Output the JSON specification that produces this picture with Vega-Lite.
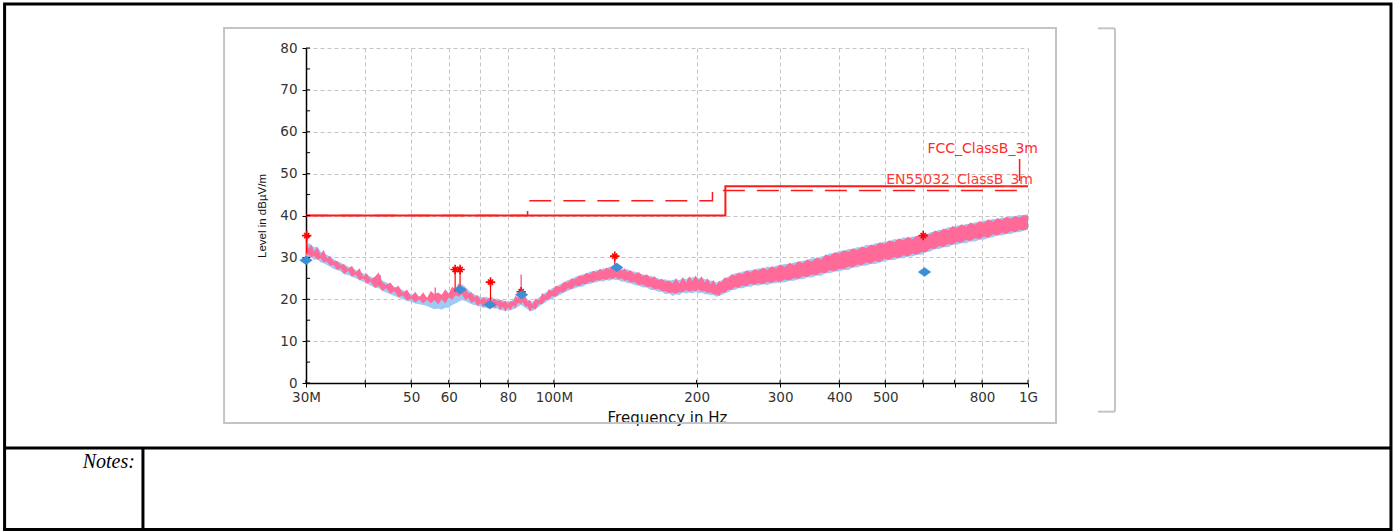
{
"$schema": "https://vega.github.io/schema/vega-lite/v6.json",
"width": 722, "height": 335,
"autosize": {"type": "none"},
"padding": {"left": 306, "top": 48, "right": 368, "bottom": 148},
"background": "white",
"config": {
  "view": {"stroke": null},
  "axis": {"gridDash": [4, 3], "gridColor": "#c4c4c4", "gridWidth": 1, "domainColor": "#000000", "domainWidth": 1.5, "tickColor": "#000000", "tickSize": 4, "tickWidth": 1, "labelFont": "DejaVu Sans", "labelFontSize": 13.5, "labelColor": "#333333", "labelPadding": 3, "titleFont": "DejaVu Sans", "titleFontWeight": "normal", "titleColor": "#111111", "labelOverlap": false, "labelFlush": false, "labelBound": false}
},
"datasets": {
  "trace": [
{"f":30.0,"pl":30.4,"ph":34.2,"bl":30.0,"bh":33.0},
{"f":30.4,"pl":30.6,"ph":32.2,"bl":29.6,"bh":33.4},
{"f":30.8,"pl":30.0,"ph":33.0,"bl":30.0,"bh":33.0},
{"f":31.2,"pl":30.4,"ph":31.4,"bl":29.4,"bh":32.4},
{"f":31.7,"pl":29.4,"ph":32.4,"bl":29.6,"bh":32.6},
{"f":32.2,"pl":29.8,"ph":30.6,"bl":28.8,"bh":31.4},
{"f":32.7,"pl":28.8,"ph":31.8,"bl":28.6,"bh":31.0},
{"f":33.2,"pl":29.0,"ph":29.8,"bl":28.2,"bh":30.6},
{"f":33.7,"pl":28.0,"ph":30.4,"bl":27.8,"bh":30.2},
{"f":34.3,"pl":28.2,"ph":29.0,"bl":27.2,"bh":29.6},
{"f":34.9,"pl":27.0,"ph":29.2,"bl":27.0,"bh":29.0},
{"f":35.5,"pl":27.4,"ph":28.2,"bl":26.6,"bh":28.8},
{"f":36.1,"pl":26.0,"ph":28.4,"bl":26.0,"bh":28.2},
{"f":36.8,"pl":26.8,"ph":27.2,"bl":25.8,"bh":27.8},
{"f":37.5,"pl":25.4,"ph":28.0,"bl":25.4,"bh":27.6},
{"f":38.2,"pl":25.9,"ph":26.4,"bl":25.0,"bh":27.0},
{"f":38.9,"pl":24.5,"ph":27.4,"bl":24.6,"bh":26.6},
{"f":39.6,"pl":25.0,"ph":25.4,"bl":24.2,"bh":26.2},
{"f":40.3,"pl":23.7,"ph":26.2,"bl":23.8,"bh":25.8},
{"f":41.1,"pl":24.2,"ph":24.7,"bl":23.2,"bh":25.4},
{"f":41.9,"pl":22.7,"ph":25.4,"bl":22.8,"bh":25.0},
{"f":42.7,"pl":23.2,"ph":26.4,"bl":22.6,"bh":24.8},
{"f":43.5,"pl":22.0,"ph":24.0,"bl":22.0,"bh":24.4},
{"f":44.3,"pl":22.7,"ph":23.4,"bl":21.6,"bh":24.0},
{"f":45.2,"pl":21.3,"ph":24.0,"bl":21.2,"bh":23.6},
{"f":46.1,"pl":21.9,"ph":22.6,"bl":20.8,"bh":23.0},
{"f":47.0,"pl":20.5,"ph":23.2,"bl":20.4,"bh":22.6},
{"f":48.0,"pl":20.9,"ph":21.5,"bl":20.0,"bh":22.2},
{"f":49.0,"pl":19.7,"ph":22.3,"bl":19.6,"bh":21.6},
{"f":50.0,"pl":20.1,"ph":20.6,"bl":19.4,"bh":21.2},
{"f":51.0,"pl":19.2,"ph":21.8,"bl":19.0,"bh":21.0},
{"f":52.0,"pl":20.0,"ph":20.4,"bl":18.8,"bh":20.8},
{"f":53.0,"pl":19.0,"ph":21.7,"bl":18.6,"bh":20.6},
{"f":54.0,"pl":19.9,"ph":20.3,"bl":18.4,"bh":20.4},
{"f":55.0,"pl":19.0,"ph":22.0,"bl":18.0,"bh":20.8},
{"f":56.0,"pl":19.8,"ph":21.2,"bl":17.6,"bh":21.0},
{"f":57.0,"pl":18.8,"ph":21.6,"bl":17.8,"bh":20.6},
{"f":58.0,"pl":20.0,"ph":21.0,"bl":17.5,"bh":21.2},
{"f":59.0,"pl":19.0,"ph":22.4,"bl":18.0,"bh":21.0},
{"f":60.0,"pl":20.4,"ph":21.4,"bl":18.0,"bh":21.4},
{"f":61.0,"pl":19.9,"ph":23.0,"bl":18.6,"bh":22.0},
{"f":62.0,"pl":21.0,"ph":22.4,"bl":19.0,"bh":22.6},
{"f":63.0,"pl":20.6,"ph":23.8,"bl":19.4,"bh":23.2},
{"f":64.0,"pl":21.2,"ph":22.6,"bl":19.8,"bh":23.6},
{"f":65.0,"pl":19.8,"ph":22.8,"bl":19.6,"bh":23.0},
{"f":66.0,"pl":20.3,"ph":21.4,"bl":19.2,"bh":22.2},
{"f":67.0,"pl":19.1,"ph":21.7,"bl":18.8,"bh":21.6},
{"f":68.0,"pl":19.6,"ph":20.5,"bl":18.6,"bh":21.2},
{"f":69.0,"pl":18.4,"ph":21.0,"bl":18.4,"bh":20.8},
{"f":70.0,"pl":19.0,"ph":19.8,"bl":18.2,"bh":20.6},
{"f":71.0,"pl":18.1,"ph":20.5,"bl":18.0,"bh":20.4},
{"f":72.0,"pl":18.9,"ph":19.9,"bl":18.0,"bh":20.6},
{"f":73.0,"pl":17.9,"ph":20.4,"bl":17.8,"bh":20.2},
{"f":74.0,"pl":18.9,"ph":19.8,"bl":18.0,"bh":20.6},
{"f":75.0,"pl":17.8,"ph":20.2,"bl":17.8,"bh":20.0},
{"f":76.0,"pl":18.7,"ph":19.5,"bl":17.8,"bh":20.2},
{"f":77.0,"pl":17.4,"ph":19.9,"bl":17.4,"bh":19.8},
{"f":78.0,"pl":18.2,"ph":19.2,"bl":17.4,"bh":19.8},
{"f":79.0,"pl":17.1,"ph":19.7,"bl":17.2,"bh":19.4},
{"f":80.0,"pl":18.1,"ph":18.9,"bl":17.4,"bh":19.6},
{"f":81.0,"pl":17.3,"ph":19.6,"bl":17.4,"bh":19.4},
{"f":82.0,"pl":18.5,"ph":19.4,"bl":17.6,"bh":20.0},
{"f":83.0,"pl":18.0,"ph":20.9,"bl":17.8,"bh":20.4},
{"f":84.0,"pl":19.2,"ph":20.2,"bl":18.2,"bh":20.8},
{"f":85.0,"pl":18.8,"ph":21.9,"bl":18.6,"bh":21.4},
{"f":86.0,"pl":19.3,"ph":20.4,"bl":18.4,"bh":21.0},
{"f":87.0,"pl":18.2,"ph":20.9,"bl":18.0,"bh":20.6},
{"f":88.0,"pl":18.3,"ph":19.4,"bl":17.6,"bh":20.0},
{"f":89.0,"pl":17.0,"ph":19.9,"bl":17.2,"bh":19.6},
{"f":90.0,"pl":17.9,"ph":18.7,"bl":17.2,"bh":19.4},
{"f":91.5,"pl":17.6,"ph":20.2,"bl":17.6,"bh":19.8},
{"f":93.0,"pl":19.0,"ph":19.7,"bl":18.2,"bh":20.4},
{"f":94.5,"pl":18.8,"ph":21.5,"bl":18.8,"bh":21.0},
{"f":96.0,"pl":19.9,"ph":20.9,"bl":19.2,"bh":21.6},
{"f":97.5,"pl":19.8,"ph":22.4,"bl":19.8,"bh":22.0},
{"f":99.0,"pl":20.8,"ph":22.0,"bl":20.0,"bh":22.6},
{"f":101,"pl":20.6,"ph":23.2,"bl":20.6,"bh":23.0},
{"f":103,"pl":21.7,"ph":23.0,"bl":21.0,"bh":23.6},
{"f":105,"pl":21.6,"ph":24.2,"bl":21.6,"bh":24.0},
{"f":107,"pl":22.6,"ph":24.0,"bl":22.0,"bh":24.6},
{"f":109,"pl":22.4,"ph":25.0,"bl":22.4,"bh":24.8},
{"f":111,"pl":23.3,"ph":24.8,"bl":22.6,"bh":25.4},
{"f":113,"pl":23.1,"ph":25.7,"bl":23.0,"bh":25.6},
{"f":115,"pl":23.7,"ph":25.5,"bl":23.0,"bh":26.0},
{"f":117,"pl":23.6,"ph":26.3,"bl":23.6,"bh":26.0},
{"f":119,"pl":24.2,"ph":26.0,"bl":23.6,"bh":26.6},
{"f":121,"pl":24.0,"ph":26.8,"bl":24.0,"bh":26.6},
{"f":123,"pl":24.6,"ph":26.4,"bl":24.0,"bh":27.0},
{"f":125,"pl":24.4,"ph":27.3,"bl":24.4,"bh":27.0},
{"f":127,"pl":24.9,"ph":26.8,"bl":24.2,"bh":27.4},
{"f":129,"pl":24.6,"ph":27.6,"bl":24.6,"bh":27.2},
{"f":131,"pl":25.1,"ph":27.2,"bl":24.4,"bh":27.8},
{"f":133,"pl":24.8,"ph":28.0,"bl":24.8,"bh":27.6},
{"f":135,"pl":25.3,"ph":27.4,"bl":24.6,"bh":28.0},
{"f":137,"pl":24.7,"ph":28.0,"bl":24.6,"bh":27.6},
{"f":139,"pl":25.0,"ph":26.7,"bl":24.2,"bh":27.4},
{"f":141,"pl":24.4,"ph":27.4,"bl":24.2,"bh":27.0},
{"f":143,"pl":24.6,"ph":26.5,"bl":23.8,"bh":27.2},
{"f":145,"pl":24.0,"ph":27.0,"bl":23.8,"bh":26.6},
{"f":148,"pl":24.1,"ph":26.0,"bl":23.4,"bh":26.6},
{"f":151,"pl":23.4,"ph":26.5,"bl":23.2,"bh":26.2},
{"f":154,"pl":23.5,"ph":25.5,"bl":22.8,"bh":26.0},
{"f":157,"pl":22.9,"ph":26.0,"bl":22.8,"bh":25.6},
{"f":160,"pl":23.0,"ph":25.0,"bl":22.2,"bh":25.6},
{"f":163,"pl":22.4,"ph":25.5,"bl":22.2,"bh":25.2},
{"f":166,"pl":22.5,"ph":24.5,"bl":21.8,"bh":25.0},
{"f":169,"pl":22.0,"ph":24.9,"bl":21.8,"bh":24.6},
{"f":172,"pl":21.9,"ph":24.2,"bl":21.2,"bh":24.8},
{"f":175,"pl":21.5,"ph":24.5,"bl":21.4,"bh":24.4},
{"f":178,"pl":21.6,"ph":23.8,"bl":20.8,"bh":24.6},
{"f":181,"pl":21.3,"ph":25.0,"bl":21.2,"bh":24.8},
{"f":184,"pl":21.8,"ph":23.7,"bl":21.0,"bh":24.6},
{"f":187,"pl":21.7,"ph":25.3,"bl":21.6,"bh":25.0},
{"f":190,"pl":22.2,"ph":24.0,"bl":21.4,"bh":24.8},
{"f":193,"pl":21.8,"ph":25.5,"bl":21.6,"bh":25.2},
{"f":196,"pl":22.1,"ph":24.3,"bl":21.4,"bh":25.2},
{"f":199,"pl":21.9,"ph":25.7,"bl":21.8,"bh":25.4},
{"f":202,"pl":22.3,"ph":24.4,"bl":21.4,"bh":25.0},
{"f":205,"pl":21.8,"ph":25.5,"bl":21.6,"bh":25.2},
{"f":208,"pl":22.0,"ph":24.0,"bl":21.2,"bh":24.8},
{"f":211,"pl":21.5,"ph":25.0,"bl":21.2,"bh":24.8},
{"f":214,"pl":21.7,"ph":23.6,"bl":21.0,"bh":24.4},
{"f":217,"pl":21.2,"ph":24.6,"bl":21.0,"bh":24.4},
{"f":220,"pl":21.2,"ph":23.3,"bl":20.6,"bh":24.0},
{"f":223,"pl":20.8,"ph":24.4,"bl":20.8,"bh":24.2},
{"f":226,"pl":21.7,"ph":24.0,"bl":21.0,"bh":24.6},
{"f":229,"pl":21.5,"ph":25.2,"bl":21.4,"bh":25.0},
{"f":233,"pl":22.3,"ph":24.9,"bl":21.6,"bh":25.4},
{"f":237,"pl":22.2,"ph":26.0,"bl":22.2,"bh":25.8},
{"f":241,"pl":22.9,"ph":25.6,"bl":22.2,"bh":26.2},
{"f":245,"pl":22.7,"ph":26.4,"bl":22.6,"bh":26.2},
{"f":250,"pl":23.3,"ph":26.0,"bl":22.6,"bh":26.6},
{"f":255,"pl":23.1,"ph":26.9,"bl":23.0,"bh":26.8},
{"f":260,"pl":23.7,"ph":26.4,"bl":23.0,"bh":27.0},
{"f":265,"pl":23.4,"ph":27.2,"bl":23.4,"bh":27.0},
{"f":270,"pl":23.9,"ph":26.8,"bl":23.2,"bh":27.4},
{"f":276,"pl":23.6,"ph":27.6,"bl":23.6,"bh":27.2},
{"f":282,"pl":24.2,"ph":27.0,"bl":23.4,"bh":27.8},
{"f":288,"pl":23.9,"ph":27.9,"bl":23.8,"bh":27.6},
{"f":294,"pl":24.4,"ph":27.4,"bl":23.8,"bh":28.0},
{"f":300,"pl":24.1,"ph":28.3,"bl":24.0,"bh":28.2},
{"f":307,"pl":24.7,"ph":27.7,"bl":24.0,"bh":28.4},
{"f":314,"pl":24.5,"ph":28.7,"bl":24.4,"bh":28.4},
{"f":321,"pl":25.1,"ph":28.1,"bl":24.4,"bh":28.8},
{"f":328,"pl":24.9,"ph":29.1,"bl":24.8,"bh":29.0},
{"f":335,"pl":25.5,"ph":28.6,"bl":24.8,"bh":29.2},
{"f":342,"pl":25.3,"ph":29.5,"bl":25.2,"bh":29.4},
{"f":350,"pl":25.9,"ph":29.0,"bl":25.2,"bh":29.8},
{"f":358,"pl":25.8,"ph":30.0,"bl":25.6,"bh":29.8},
{"f":366,"pl":26.4,"ph":29.5,"bl":25.6,"bh":30.2},
{"f":374,"pl":26.2,"ph":30.7,"bl":26.2,"bh":30.4},
{"f":382,"pl":26.9,"ph":30.3,"bl":26.2,"bh":31.0},
{"f":391,"pl":26.7,"ph":31.2,"bl":26.6,"bh":31.0},
{"f":400,"pl":27.3,"ph":30.9,"bl":26.6,"bh":31.6},
{"f":409,"pl":27.2,"ph":31.7,"bl":27.0,"bh":31.6},
{"f":418,"pl":27.8,"ph":31.3,"bl":27.0,"bh":32.0},
{"f":427,"pl":27.6,"ph":32.2,"bl":27.6,"bh":32.0},
{"f":436,"pl":28.3,"ph":31.7,"bl":27.6,"bh":32.4},
{"f":446,"pl":28.1,"ph":32.6,"bl":28.0,"bh":32.4},
{"f":456,"pl":28.8,"ph":32.2,"bl":28.0,"bh":33.0},
{"f":466,"pl":28.5,"ph":33.1,"bl":28.4,"bh":32.8},
{"f":476,"pl":29.2,"ph":32.7,"bl":28.4,"bh":33.4},
{"f":487,"pl":28.9,"ph":33.6,"bl":28.8,"bh":33.4},
{"f":498,"pl":29.7,"ph":33.2,"bl":29.0,"bh":33.8},
{"f":510,"pl":29.4,"ph":34.1,"bl":29.4,"bh":33.8},
{"f":522,"pl":30.1,"ph":33.6,"bl":29.4,"bh":34.4},
{"f":534,"pl":29.8,"ph":34.5,"bl":29.8,"bh":34.2},
{"f":546,"pl":30.5,"ph":34.1,"bl":29.8,"bh":34.8},
{"f":558,"pl":30.2,"ph":34.9,"bl":30.2,"bh":34.6},
{"f":570,"pl":30.9,"ph":34.3,"bl":30.2,"bh":35.0},
{"f":583,"pl":30.6,"ph":35.2,"bl":30.6,"bh":35.0},
{"f":596,"pl":31.3,"ph":34.7,"bl":30.6,"bh":35.4},
{"f":609,"pl":31.2,"ph":35.7,"bl":31.2,"bh":35.4},
{"f":622,"pl":32.1,"ph":35.4,"bl":31.4,"bh":36.0},
{"f":636,"pl":32.0,"ph":36.4,"bl":32.0,"bh":36.2},
{"f":650,"pl":32.7,"ph":36.0,"bl":32.0,"bh":36.6},
{"f":664,"pl":32.5,"ph":36.9,"bl":32.4,"bh":36.6},
{"f":678,"pl":33.2,"ph":36.5,"bl":32.4,"bh":37.2},
{"f":693,"pl":33.0,"ph":37.5,"bl":33.0,"bh":37.2},
{"f":708,"pl":33.7,"ph":37.0,"bl":33.0,"bh":37.6},
{"f":724,"pl":33.5,"ph":37.9,"bl":33.4,"bh":37.6},
{"f":740,"pl":34.2,"ph":37.4,"bl":33.4,"bh":38.0},
{"f":756,"pl":33.9,"ph":38.3,"bl":33.8,"bh":38.0},
{"f":773,"pl":34.6,"ph":37.8,"bl":33.8,"bh":38.4},
{"f":790,"pl":34.3,"ph":38.7,"bl":34.2,"bh":38.4},
{"f":807,"pl":35.0,"ph":38.2,"bl":34.2,"bh":38.8},
{"f":825,"pl":34.7,"ph":39.1,"bl":34.6,"bh":38.8},
{"f":843,"pl":35.5,"ph":38.5,"bl":34.8,"bh":39.2},
{"f":862,"pl":35.2,"ph":39.4,"bl":35.2,"bh":39.0},
{"f":881,"pl":35.9,"ph":38.9,"bl":35.2,"bh":39.6},
{"f":900,"pl":35.6,"ph":39.7,"bl":35.6,"bh":39.4},
{"f":920,"pl":36.3,"ph":39.2,"bl":35.6,"bh":39.8},
{"f":940,"pl":36.0,"ph":39.9,"bl":36.0,"bh":39.8},
{"f":960,"pl":36.6,"ph":39.5,"bl":36.0,"bh":40.2},
{"f":980,"pl":36.4,"ph":40.2,"bl":36.4,"bh":40.0},
{"f":1000,"pl":36.9,"ph":39.8,"bl":36.6,"bh":40.4}
  ],
  "stars": [{"f":30.1,"v":35.2},{"f":61.9,"v":27.1},{"f":63.4,"v":27.1},{"f":73.5,"v":24.1},{"f":85.3,"v":21.8},{"f":134.4,"v":30.3},{"f":601,"v":35.2}],
  "diamonds": [{"f":30,"v":29.3},{"f":63.4,"v":22.3},{"f":73.3,"v":18.7},{"f":85.5,"v":21.1},{"f":135.7,"v":27.6},{"f":605,"v":26.5}],
  "spikes": [{"f":30.1,"lo":31,"hi":35.2},{"f":61.9,"lo":21.8,"hi":27.1},{"f":63.4,"lo":22.8,"hi":27.1},{"f":73.5,"lo":19.8,"hi":24.1},{"f":134.4,"lo":27.6,"hi":30.3},{"f":601,"lo":34.8,"hi":35.2}],
  "pinkspikes": [{"f":85.3,"lo":21,"hi":25.9},{"f":56.2,"lo":21,"hi":22.8},{"f":43,"lo":24,"hi":25.8}],
  "fcc": [{"f":30,"v":40},{"f":88,"v":40},{"f":88,"v":43.5},{"f":216,"v":43.5},{"f":216,"v":46},{"f":960,"v":46},{"f":960,"v":54},{"f":1000,"v":54}],
  "en": [{"f":30,"v":40},{"f":230,"v":40},{"f":230,"v":47},{"f":1000,"v":47}],
  "xticks": [{"f":30},{"f":40},{"f":50},{"f":60},{"f":70},{"f":80},{"f":100},{"f":200},{"f":300},{"f":400},{"f":500},{"f":600},{"f":700},{"f":800},{"f":1000}],
  "yticks": [{"v":0},{"v":5},{"v":10},{"v":15},{"v":20},{"v":25},{"v":30},{"v":35},{"v":40},{"v":45},{"v":50},{"v":55},{"v":60},{"v":65},{"v":70},{"v":75},{"v":80}]
},
"layer": [
  {
    "data": {"name": "trace"},
    "mark": {"type": "area", "color": "#9dcbf5", "clip": false},
    "encoding": {
      "x": {"field": "f", "type": "quantitative", "scale": {"type": "log", "domain": [30, 1000], "nice": false},
        "axis": {"title": "Frequency in Hz", "titleFontSize": 15, "titlePadding": 7,
          "values": [30,40,50,60,70,80,100,200,300,400,500,600,700,800,1000],
          "labelExpr": "datum.value == 30 ? '30M' : datum.value == 100 ? '100M' : datum.value == 1000 ? '1G' : (datum.value == 40 || datum.value == 70 || datum.value == 600 || datum.value == 700) ? '' : '' + datum.value"}},
      "y": {"field": "bl", "type": "quantitative", "scale": {"domain": [0, 80], "nice": false, "zero": false},
        "axis": {"title": "Level in dBµV/m", "titleFont": "Liberation Sans", "titleFontSize": 11.5, "titlePadding": 12, "labelPadding": 5,
          "values": [0,5,10,15,20,25,30,35,40,45,50,55,60,65,70,75,80],
          "labelExpr": "datum.value % 10 == 0 ? datum.label : ''"}},
      "y2": {"field": "bh"}
    }
  },
  {
    "data": {"name": "trace"},
    "mark": {"type": "area", "color": "#ff6a98", "clip": false},
    "encoding": {
      "x": {"field": "f", "type": "quantitative", "scale": {"type": "log", "domain": [30, 1000], "nice": false}},
      "y": {"field": "pl", "type": "quantitative", "scale": {"domain": [0, 80], "nice": false, "zero": false}},
      "y2": {"field": "ph"}
    }
  },
  {
    "data": {"name": "pinkspikes"},
    "mark": {"type": "rule", "color": "#ff6a98", "strokeWidth": 1.5, "clip": false},
    "encoding": {
      "x": {"field": "f", "type": "quantitative", "scale": {"type": "log", "domain": [30, 1000], "nice": false}},
      "y": {"field": "lo", "type": "quantitative", "scale": {"domain": [0, 80], "nice": false, "zero": false}},
      "y2": {"field": "hi"}
    }
  },
  {
    "data": {"name": "fcc"},
    "mark": {"type": "line", "color": "#ff1a1a", "strokeWidth": 1.5, "strokeDash": [22, 12], "clip": false},
    "encoding": {
      "x": {"field": "f", "type": "quantitative", "scale": {"type": "log", "domain": [30, 1000], "nice": false}},
      "y": {"field": "v", "type": "quantitative", "scale": {"domain": [0, 80], "nice": false, "zero": false}},
      "order": {"value": null}
    }
  },
  {
    "data": {"name": "en"},
    "mark": {"type": "line", "color": "#ff1a1a", "strokeWidth": 2, "clip": false},
    "encoding": {
      "x": {"field": "f", "type": "quantitative", "scale": {"type": "log", "domain": [30, 1000], "nice": false}},
      "y": {"field": "v", "type": "quantitative", "scale": {"domain": [0, 80], "nice": false, "zero": false}},
      "order": {"value": null}
    }
  },
  {
    "data": {"name": "xticks"},
    "mark": {"type": "rule", "color": "#000000", "strokeWidth": 1, "clip": false},
    "encoding": {
      "x": {"field": "f", "type": "quantitative", "scale": {"type": "log", "domain": [30, 1000], "nice": false}},
      "y": {"datum": 0, "type": "quantitative", "scale": {"domain": [0, 80], "nice": false, "zero": false}},
      "y2": {"datum": 0.75}
    }
  },
  {
    "data": {"name": "yticks"},
    "mark": {"type": "rule", "color": "#000000", "strokeWidth": 1, "clip": false},
    "encoding": {
      "y": {"field": "v", "type": "quantitative", "scale": {"domain": [0, 80], "nice": false, "zero": false}},
      "x": {"datum": 30, "type": "quantitative", "scale": {"type": "log", "domain": [30, 1000], "nice": false}},
      "x2": {"datum": 30.6}
    }
  },
  {
    "data": {"name": "spikes"},
    "mark": {"type": "rule", "color": "#ff0000", "strokeWidth": 1.2, "clip": false},
    "encoding": {
      "x": {"field": "f", "type": "quantitative", "scale": {"type": "log", "domain": [30, 1000], "nice": false}},
      "y": {"field": "lo", "type": "quantitative", "scale": {"domain": [0, 80], "nice": false, "zero": false}},
      "y2": {"field": "hi"}
    }
  },
  {
    "data": {"name": "stars"},
    "mark": {"type": "point", "shape": "M-1,0L1,0M0,-1L0,1M-0.55,-0.55L0.55,0.55M-0.55,0.55L0.55,-0.55", "filled": false, "color": "#ff0000", "strokeWidth": 1.6, "size": 90, "opacity": 1, "clip": false},
    "encoding": {
      "x": {"field": "f", "type": "quantitative", "scale": {"type": "log", "domain": [30, 1000], "nice": false}},
      "y": {"field": "v", "type": "quantitative", "scale": {"domain": [0, 80], "nice": false, "zero": false}}
    }
  },
  {
    "data": {"name": "diamonds"},
    "mark": {"type": "point", "shape": "M-1.2,0L0,-0.85L1.2,0L0,0.85Z", "filled": true, "color": "#3b8fd6", "size": 121, "opacity": 1, "clip": false},
    "encoding": {
      "x": {"field": "f", "type": "quantitative", "scale": {"type": "log", "domain": [30, 1000], "nice": false}},
      "y": {"field": "v", "type": "quantitative", "scale": {"domain": [0, 80], "nice": false, "zero": false}}
    }
  },
  {
    "data": {"values": [{}]},
    "mark": {"type": "text", "text": "FCC_ClassB_3m", "font": "DejaVu Sans", "fontSize": 14, "color": "#ff2a2a", "align": "right", "baseline": "middle", "clip": false},
    "encoding": {
      "x": {"datum": 1049.7, "type": "quantitative", "scale": {"type": "log", "domain": [30, 1000], "nice": false}},
      "y": {"datum": 55.9, "type": "quantitative", "scale": {"domain": [0, 80], "nice": false, "zero": false}}
    }
  },
  {
    "data": {"values": [{}]},
    "mark": {"type": "text", "text": "EN55032_ClassB_3m", "font": "DejaVu Sans", "fontSize": 14, "color": "#ff3a3a", "align": "right", "baseline": "middle", "clip": false},
    "encoding": {
      "x": {"datum": 1024.5, "type": "quantitative", "scale": {"type": "log", "domain": [30, 1000], "nice": false}},
      "y": {"datum": 48.5, "type": "quantitative", "scale": {"domain": [0, 80], "nice": false, "zero": false}}
    }
  },
  {
    "data": {"values": [{}]},
    "mark": {"type": "rect", "filled": false, "color": "#c4c4c4", "strokeWidth": 2, "clip": false},
    "encoding": {
      "x": {"datum": 20.15, "type": "quantitative", "scale": {"type": "log", "domain": [30, 1000], "nice": false}},
      "x2": {"datum": 1145.7},
      "y": {"datum": 84.78, "type": "quantitative", "scale": {"domain": [0, 80], "nice": false, "zero": false}},
      "y2": {"datum": -9.55}
    }
  },
  {
    "data": {"values": [{}]},
    "mark": {"type": "rule", "color": "#c4c4c4", "strokeWidth": 2, "clip": false},
    "encoding": {
      "x": {"datum": 1404.8, "type": "quantitative", "scale": {"type": "log", "domain": [30, 1000], "nice": false}},
      "x2": {"datum": 1525.6},
      "y": {"datum": 84.7, "type": "quantitative", "scale": {"domain": [0, 80], "nice": false, "zero": false}}
    }
  },
  {
    "data": {"values": [{}]},
    "mark": {"type": "rule", "color": "#c4c4c4", "strokeWidth": 2, "clip": false},
    "encoding": {
      "x": {"datum": 1404.8, "type": "quantitative", "scale": {"type": "log", "domain": [30, 1000], "nice": false}},
      "x2": {"datum": 1525.6},
      "y": {"datum": -6.85, "type": "quantitative", "scale": {"domain": [0, 80], "nice": false, "zero": false}}
    }
  },
  {
    "data": {"values": [{}]},
    "mark": {"type": "rule", "color": "#c4c4c4", "strokeWidth": 2, "clip": false},
    "encoding": {
      "x": {"datum": 1525.6, "type": "quantitative", "scale": {"type": "log", "domain": [30, 1000], "nice": false}},
      "y": {"datum": 84.7, "type": "quantitative", "scale": {"domain": [0, 80], "nice": false, "zero": false}},
      "y2": {"datum": -6.85}
    }
  },
  {
    "data": {"values": [{}]},
    "mark": {"type": "rect", "filled": false, "color": "#000000", "strokeWidth": 3, "clip": false},
    "encoding": {
      "x": {"datum": 6.94, "type": "quantitative", "scale": {"type": "log", "domain": [30, 1000], "nice": false}},
      "x2": {"datum": 5829},
      "y": {"datum": 90.51, "type": "quantitative", "scale": {"domain": [0, 80], "nice": false, "zero": false}},
      "y2": {"datum": -34.99}
    }
  },
  {
    "data": {"values": [{}]},
    "mark": {"type": "rule", "color": "#000000", "strokeWidth": 3, "clip": false},
    "encoding": {
      "x": {"datum": 6.94, "type": "quantitative", "scale": {"type": "log", "domain": [30, 1000], "nice": false}},
      "x2": {"datum": 5829},
      "y": {"datum": -15.52, "type": "quantitative", "scale": {"domain": [0, 80], "nice": false, "zero": false}}
    }
  },
  {
    "data": {"values": [{}]},
    "mark": {"type": "rule", "color": "#000000", "strokeWidth": 3, "clip": false},
    "encoding": {
      "x": {"datum": 13.59, "type": "quantitative", "scale": {"type": "log", "domain": [30, 1000], "nice": false}},
      "y": {"datum": -15.52, "type": "quantitative", "scale": {"domain": [0, 80], "nice": false, "zero": false}},
      "y2": {"datum": -34.99}
    }
  },
  {
    "data": {"values": [{}]},
    "mark": {"type": "text", "text": "Notes:", "font": "Liberation Serif", "fontStyle": "italic", "fontSize": 20, "color": "#000000", "align": "right", "baseline": "alphabetic", "clip": false},
    "encoding": {
      "x": {"datum": 13.07, "type": "quantitative", "scale": {"type": "log", "domain": [30, 1000], "nice": false}},
      "y": {"datum": -20.3, "type": "quantitative", "scale": {"domain": [0, 80], "nice": false, "zero": false}}
    }
  }
]
}
